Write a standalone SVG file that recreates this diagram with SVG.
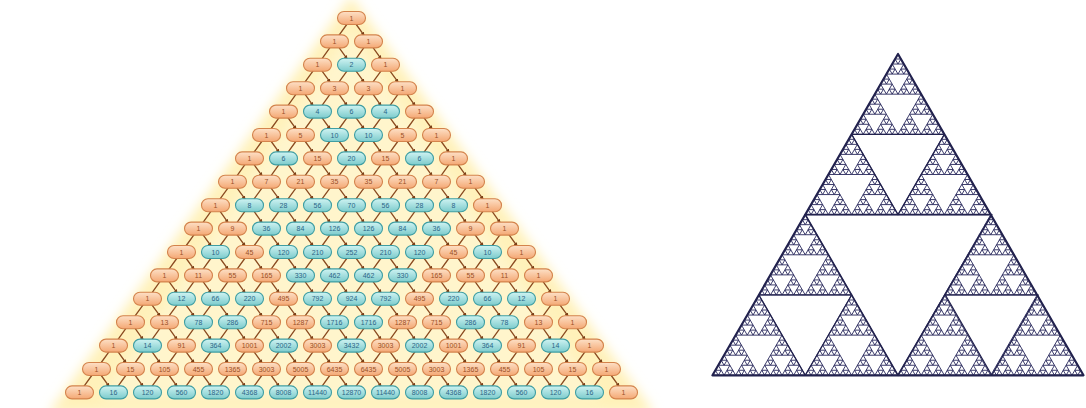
<svg xmlns="http://www.w3.org/2000/svg" xmlns:xlink="http://www.w3.org/1999/xlink" width="1086" height="408" viewBox="0 0 1086 408">
<style>
text{font-family:'Liberation Sans',Arial,sans-serif;font-size:7px;text-anchor:middle}
.o use{fill:url(#go);stroke:#d4834c;stroke-width:1.1}
.o text{fill:#9a4f26}
.t use{fill:url(#gt);stroke:#3f9ea3;stroke-width:1.1}
.t text{fill:#2b6688}
#conn use{stroke:#8a4a20;stroke-width:1.3;fill:none}
.sp{fill:none;stroke:#26265a;stroke-width:0.9;stroke-linejoin:round}
.sl{fill:none;stroke:#22224e;stroke-linejoin:round}
</style>
<defs>
<linearGradient id="go" x1="0" y1="0" x2="0" y2="1"><stop offset="0" stop-color="#fde0c6"/><stop offset="1" stop-color="#f4a874"/></linearGradient>
<linearGradient id="gt" x1="0" y1="0" x2="0" y2="1"><stop offset="0" stop-color="#cff3f2"/><stop offset="1" stop-color="#7ccbcc"/></linearGradient>
<filter id="blur" x="-10%" y="-10%" width="120%" height="120%"><feGaussianBlur stdDeviation="6"/></filter>
<marker id="ah" viewBox="0 0 6 6" refX="5" refY="3" markerWidth="3" markerHeight="3" orient="auto"><path d="M0,0 L6,3 L0,6 Z" fill="#7a3e16"/></marker>
<rect id="p" x="-14" y="-6.5" width="28" height="13" rx="6.5"/>
<path id="cv" d="M-4.4,6 L-12.6,17.4 M4.4,6 L12.6,17.4" marker-end="url(#ah)"/>
<path id="t0" d="M0,0 L-2.8984,5.0202 L2.8984,5.0202 Z"/>
<g id="t1"><use href="#t0"/><use href="#t0" x="-2.8984" y="5.0202"/><use href="#t0" x="2.8984" y="5.0202"/></g>
<g id="t2"><use href="#t1"/><use href="#t1" x="-5.7969" y="10.0404"/><use href="#t1" x="5.7969" y="10.0404"/></g>
<g id="t3"><use href="#t2"/><use href="#t2" x="-11.5938" y="20.0808"/><use href="#t2" x="11.5938" y="20.0808"/></g>
<g id="t4"><use href="#t3"/><use href="#t3" x="-23.1875" y="40.1616"/><use href="#t3" x="23.1875" y="40.1616"/></g>
<g id="t5"><use href="#t4"/><use href="#t4" x="-46.375" y="80.3232"/><use href="#t4" x="46.375" y="80.3232"/></g>
<g id="t6"><use href="#t5"/><use href="#t5" x="-92.75" y="160.6464"/><use href="#t5" x="92.75" y="160.6464"/></g>
</defs>
<rect width="1086" height="408" fill="#ffffff"/>
<g id="glow">
<polygon points="351,-4 48,414 655,414" fill="#fff1ba" filter="url(#blur)"/>
<polygon points="351,30 100,400 602,400" fill="#fff7d4" opacity="0.7" filter="url(#blur)"/>
</g>
<g id="conn">
<use href="#cv" x="351.5" y="18"/>
<use href="#cv" x="334.5" y="41.4"/><use href="#cv" x="368.5" y="41.4"/>
<use href="#cv" x="317.5" y="64.8"/><use href="#cv" x="351.5" y="64.8"/><use href="#cv" x="385.5" y="64.8"/>
<use href="#cv" x="300.5" y="88.2"/><use href="#cv" x="334.5" y="88.2"/><use href="#cv" x="368.5" y="88.2"/><use href="#cv" x="402.5" y="88.2"/>
<use href="#cv" x="283.5" y="111.6"/><use href="#cv" x="317.5" y="111.6"/><use href="#cv" x="351.5" y="111.6"/><use href="#cv" x="385.5" y="111.6"/><use href="#cv" x="419.5" y="111.6"/>
<use href="#cv" x="266.5" y="135"/><use href="#cv" x="300.5" y="135"/><use href="#cv" x="334.5" y="135"/><use href="#cv" x="368.5" y="135"/><use href="#cv" x="402.5" y="135"/><use href="#cv" x="436.5" y="135"/>
<use href="#cv" x="249.5" y="158.4"/><use href="#cv" x="283.5" y="158.4"/><use href="#cv" x="317.5" y="158.4"/><use href="#cv" x="351.5" y="158.4"/><use href="#cv" x="385.5" y="158.4"/><use href="#cv" x="419.5" y="158.4"/><use href="#cv" x="453.5" y="158.4"/>
<use href="#cv" x="232.5" y="181.8"/><use href="#cv" x="266.5" y="181.8"/><use href="#cv" x="300.5" y="181.8"/><use href="#cv" x="334.5" y="181.8"/><use href="#cv" x="368.5" y="181.8"/><use href="#cv" x="402.5" y="181.8"/><use href="#cv" x="436.5" y="181.8"/><use href="#cv" x="470.5" y="181.8"/>
<use href="#cv" x="215.5" y="205.2"/><use href="#cv" x="249.5" y="205.2"/><use href="#cv" x="283.5" y="205.2"/><use href="#cv" x="317.5" y="205.2"/><use href="#cv" x="351.5" y="205.2"/><use href="#cv" x="385.5" y="205.2"/><use href="#cv" x="419.5" y="205.2"/><use href="#cv" x="453.5" y="205.2"/><use href="#cv" x="487.5" y="205.2"/>
<use href="#cv" x="198.5" y="228.6"/><use href="#cv" x="232.5" y="228.6"/><use href="#cv" x="266.5" y="228.6"/><use href="#cv" x="300.5" y="228.6"/><use href="#cv" x="334.5" y="228.6"/><use href="#cv" x="368.5" y="228.6"/><use href="#cv" x="402.5" y="228.6"/><use href="#cv" x="436.5" y="228.6"/><use href="#cv" x="470.5" y="228.6"/><use href="#cv" x="504.5" y="228.6"/>
<use href="#cv" x="181.5" y="252"/><use href="#cv" x="215.5" y="252"/><use href="#cv" x="249.5" y="252"/><use href="#cv" x="283.5" y="252"/><use href="#cv" x="317.5" y="252"/><use href="#cv" x="351.5" y="252"/><use href="#cv" x="385.5" y="252"/><use href="#cv" x="419.5" y="252"/><use href="#cv" x="453.5" y="252"/><use href="#cv" x="487.5" y="252"/><use href="#cv" x="521.5" y="252"/>
<use href="#cv" x="164.5" y="275.4"/><use href="#cv" x="198.5" y="275.4"/><use href="#cv" x="232.5" y="275.4"/><use href="#cv" x="266.5" y="275.4"/><use href="#cv" x="300.5" y="275.4"/><use href="#cv" x="334.5" y="275.4"/><use href="#cv" x="368.5" y="275.4"/><use href="#cv" x="402.5" y="275.4"/><use href="#cv" x="436.5" y="275.4"/><use href="#cv" x="470.5" y="275.4"/><use href="#cv" x="504.5" y="275.4"/><use href="#cv" x="538.5" y="275.4"/>
<use href="#cv" x="147.5" y="298.8"/><use href="#cv" x="181.5" y="298.8"/><use href="#cv" x="215.5" y="298.8"/><use href="#cv" x="249.5" y="298.8"/><use href="#cv" x="283.5" y="298.8"/><use href="#cv" x="317.5" y="298.8"/><use href="#cv" x="351.5" y="298.8"/><use href="#cv" x="385.5" y="298.8"/><use href="#cv" x="419.5" y="298.8"/><use href="#cv" x="453.5" y="298.8"/><use href="#cv" x="487.5" y="298.8"/><use href="#cv" x="521.5" y="298.8"/><use href="#cv" x="555.5" y="298.8"/>
<use href="#cv" x="130.5" y="322.2"/><use href="#cv" x="164.5" y="322.2"/><use href="#cv" x="198.5" y="322.2"/><use href="#cv" x="232.5" y="322.2"/><use href="#cv" x="266.5" y="322.2"/><use href="#cv" x="300.5" y="322.2"/><use href="#cv" x="334.5" y="322.2"/><use href="#cv" x="368.5" y="322.2"/><use href="#cv" x="402.5" y="322.2"/><use href="#cv" x="436.5" y="322.2"/><use href="#cv" x="470.5" y="322.2"/><use href="#cv" x="504.5" y="322.2"/><use href="#cv" x="538.5" y="322.2"/><use href="#cv" x="572.5" y="322.2"/>
<use href="#cv" x="113.5" y="345.6"/><use href="#cv" x="147.5" y="345.6"/><use href="#cv" x="181.5" y="345.6"/><use href="#cv" x="215.5" y="345.6"/><use href="#cv" x="249.5" y="345.6"/><use href="#cv" x="283.5" y="345.6"/><use href="#cv" x="317.5" y="345.6"/><use href="#cv" x="351.5" y="345.6"/><use href="#cv" x="385.5" y="345.6"/><use href="#cv" x="419.5" y="345.6"/><use href="#cv" x="453.5" y="345.6"/><use href="#cv" x="487.5" y="345.6"/><use href="#cv" x="521.5" y="345.6"/><use href="#cv" x="555.5" y="345.6"/><use href="#cv" x="589.5" y="345.6"/>
<use href="#cv" x="96.5" y="369"/><use href="#cv" x="130.5" y="369"/><use href="#cv" x="164.5" y="369"/><use href="#cv" x="198.5" y="369"/><use href="#cv" x="232.5" y="369"/><use href="#cv" x="266.5" y="369"/><use href="#cv" x="300.5" y="369"/><use href="#cv" x="334.5" y="369"/><use href="#cv" x="368.5" y="369"/><use href="#cv" x="402.5" y="369"/><use href="#cv" x="436.5" y="369"/><use href="#cv" x="470.5" y="369"/><use href="#cv" x="504.5" y="369"/><use href="#cv" x="538.5" y="369"/><use href="#cv" x="572.5" y="369"/><use href="#cv" x="606.5" y="369"/>
</g>
<g id="nodes">
<g id="n0_0" class="o" transform="translate(351.5,18)"><use href="#p"/><text y="2.5">1</text></g>
<g id="n1_0" class="o" transform="translate(334.5,41.4)"><use href="#p"/><text y="2.5">1</text></g>
<g id="n1_1" class="o" transform="translate(368.5,41.4)"><use href="#p"/><text y="2.5">1</text></g>
<g id="n2_0" class="o" transform="translate(317.5,64.8)"><use href="#p"/><text y="2.5">1</text></g>
<g id="n2_1" class="t" transform="translate(351.5,64.8)"><use href="#p"/><text y="2.5">2</text></g>
<g id="n2_2" class="o" transform="translate(385.5,64.8)"><use href="#p"/><text y="2.5">1</text></g>
<g id="n3_0" class="o" transform="translate(300.5,88.2)"><use href="#p"/><text y="2.5">1</text></g>
<g id="n3_1" class="o" transform="translate(334.5,88.2)"><use href="#p"/><text y="2.5">3</text></g>
<g id="n3_2" class="o" transform="translate(368.5,88.2)"><use href="#p"/><text y="2.5">3</text></g>
<g id="n3_3" class="o" transform="translate(402.5,88.2)"><use href="#p"/><text y="2.5">1</text></g>
<g id="n4_0" class="o" transform="translate(283.5,111.6)"><use href="#p"/><text y="2.5">1</text></g>
<g id="n4_1" class="t" transform="translate(317.5,111.6)"><use href="#p"/><text y="2.5">4</text></g>
<g id="n4_2" class="t" transform="translate(351.5,111.6)"><use href="#p"/><text y="2.5">6</text></g>
<g id="n4_3" class="t" transform="translate(385.5,111.6)"><use href="#p"/><text y="2.5">4</text></g>
<g id="n4_4" class="o" transform="translate(419.5,111.6)"><use href="#p"/><text y="2.5">1</text></g>
<g id="n5_0" class="o" transform="translate(266.5,135)"><use href="#p"/><text y="2.5">1</text></g>
<g id="n5_1" class="o" transform="translate(300.5,135)"><use href="#p"/><text y="2.5">5</text></g>
<g id="n5_2" class="t" transform="translate(334.5,135)"><use href="#p"/><text y="2.5">10</text></g>
<g id="n5_3" class="t" transform="translate(368.5,135)"><use href="#p"/><text y="2.5">10</text></g>
<g id="n5_4" class="o" transform="translate(402.5,135)"><use href="#p"/><text y="2.5">5</text></g>
<g id="n5_5" class="o" transform="translate(436.5,135)"><use href="#p"/><text y="2.5">1</text></g>
<g id="n6_0" class="o" transform="translate(249.5,158.4)"><use href="#p"/><text y="2.5">1</text></g>
<g id="n6_1" class="t" transform="translate(283.5,158.4)"><use href="#p"/><text y="2.5">6</text></g>
<g id="n6_2" class="o" transform="translate(317.5,158.4)"><use href="#p"/><text y="2.5">15</text></g>
<g id="n6_3" class="t" transform="translate(351.5,158.4)"><use href="#p"/><text y="2.5">20</text></g>
<g id="n6_4" class="o" transform="translate(385.5,158.4)"><use href="#p"/><text y="2.5">15</text></g>
<g id="n6_5" class="t" transform="translate(419.5,158.4)"><use href="#p"/><text y="2.5">6</text></g>
<g id="n6_6" class="o" transform="translate(453.5,158.4)"><use href="#p"/><text y="2.5">1</text></g>
<g id="n7_0" class="o" transform="translate(232.5,181.8)"><use href="#p"/><text y="2.5">1</text></g>
<g id="n7_1" class="o" transform="translate(266.5,181.8)"><use href="#p"/><text y="2.5">7</text></g>
<g id="n7_2" class="o" transform="translate(300.5,181.8)"><use href="#p"/><text y="2.5">21</text></g>
<g id="n7_3" class="o" transform="translate(334.5,181.8)"><use href="#p"/><text y="2.5">35</text></g>
<g id="n7_4" class="o" transform="translate(368.5,181.8)"><use href="#p"/><text y="2.5">35</text></g>
<g id="n7_5" class="o" transform="translate(402.5,181.8)"><use href="#p"/><text y="2.5">21</text></g>
<g id="n7_6" class="o" transform="translate(436.5,181.8)"><use href="#p"/><text y="2.5">7</text></g>
<g id="n7_7" class="o" transform="translate(470.5,181.8)"><use href="#p"/><text y="2.5">1</text></g>
<g id="n8_0" class="o" transform="translate(215.5,205.2)"><use href="#p"/><text y="2.5">1</text></g>
<g id="n8_1" class="t" transform="translate(249.5,205.2)"><use href="#p"/><text y="2.5">8</text></g>
<g id="n8_2" class="t" transform="translate(283.5,205.2)"><use href="#p"/><text y="2.5">28</text></g>
<g id="n8_3" class="t" transform="translate(317.5,205.2)"><use href="#p"/><text y="2.5">56</text></g>
<g id="n8_4" class="t" transform="translate(351.5,205.2)"><use href="#p"/><text y="2.5">70</text></g>
<g id="n8_5" class="t" transform="translate(385.5,205.2)"><use href="#p"/><text y="2.5">56</text></g>
<g id="n8_6" class="t" transform="translate(419.5,205.2)"><use href="#p"/><text y="2.5">28</text></g>
<g id="n8_7" class="t" transform="translate(453.5,205.2)"><use href="#p"/><text y="2.5">8</text></g>
<g id="n8_8" class="o" transform="translate(487.5,205.2)"><use href="#p"/><text y="2.5">1</text></g>
<g id="n9_0" class="o" transform="translate(198.5,228.6)"><use href="#p"/><text y="2.5">1</text></g>
<g id="n9_1" class="o" transform="translate(232.5,228.6)"><use href="#p"/><text y="2.5">9</text></g>
<g id="n9_2" class="t" transform="translate(266.5,228.6)"><use href="#p"/><text y="2.5">36</text></g>
<g id="n9_3" class="t" transform="translate(300.5,228.6)"><use href="#p"/><text y="2.5">84</text></g>
<g id="n9_4" class="t" transform="translate(334.5,228.6)"><use href="#p"/><text y="2.5">126</text></g>
<g id="n9_5" class="t" transform="translate(368.5,228.6)"><use href="#p"/><text y="2.5">126</text></g>
<g id="n9_6" class="t" transform="translate(402.5,228.6)"><use href="#p"/><text y="2.5">84</text></g>
<g id="n9_7" class="t" transform="translate(436.5,228.6)"><use href="#p"/><text y="2.5">36</text></g>
<g id="n9_8" class="o" transform="translate(470.5,228.6)"><use href="#p"/><text y="2.5">9</text></g>
<g id="n9_9" class="o" transform="translate(504.5,228.6)"><use href="#p"/><text y="2.5">1</text></g>
<g id="n10_0" class="o" transform="translate(181.5,252)"><use href="#p"/><text y="2.5">1</text></g>
<g id="n10_1" class="t" transform="translate(215.5,252)"><use href="#p"/><text y="2.5">10</text></g>
<g id="n10_2" class="o" transform="translate(249.5,252)"><use href="#p"/><text y="2.5">45</text></g>
<g id="n10_3" class="t" transform="translate(283.5,252)"><use href="#p"/><text y="2.5">120</text></g>
<g id="n10_4" class="t" transform="translate(317.5,252)"><use href="#p"/><text y="2.5">210</text></g>
<g id="n10_5" class="t" transform="translate(351.5,252)"><use href="#p"/><text y="2.5">252</text></g>
<g id="n10_6" class="t" transform="translate(385.5,252)"><use href="#p"/><text y="2.5">210</text></g>
<g id="n10_7" class="t" transform="translate(419.5,252)"><use href="#p"/><text y="2.5">120</text></g>
<g id="n10_8" class="o" transform="translate(453.5,252)"><use href="#p"/><text y="2.5">45</text></g>
<g id="n10_9" class="t" transform="translate(487.5,252)"><use href="#p"/><text y="2.5">10</text></g>
<g id="n10_10" class="o" transform="translate(521.5,252)"><use href="#p"/><text y="2.5">1</text></g>
<g id="n11_0" class="o" transform="translate(164.5,275.4)"><use href="#p"/><text y="2.5">1</text></g>
<g id="n11_1" class="o" transform="translate(198.5,275.4)"><use href="#p"/><text y="2.5">11</text></g>
<g id="n11_2" class="o" transform="translate(232.5,275.4)"><use href="#p"/><text y="2.5">55</text></g>
<g id="n11_3" class="o" transform="translate(266.5,275.4)"><use href="#p"/><text y="2.5">165</text></g>
<g id="n11_4" class="t" transform="translate(300.5,275.4)"><use href="#p"/><text y="2.5">330</text></g>
<g id="n11_5" class="t" transform="translate(334.5,275.4)"><use href="#p"/><text y="2.5">462</text></g>
<g id="n11_6" class="t" transform="translate(368.5,275.4)"><use href="#p"/><text y="2.5">462</text></g>
<g id="n11_7" class="t" transform="translate(402.5,275.4)"><use href="#p"/><text y="2.5">330</text></g>
<g id="n11_8" class="o" transform="translate(436.5,275.4)"><use href="#p"/><text y="2.5">165</text></g>
<g id="n11_9" class="o" transform="translate(470.5,275.4)"><use href="#p"/><text y="2.5">55</text></g>
<g id="n11_10" class="o" transform="translate(504.5,275.4)"><use href="#p"/><text y="2.5">11</text></g>
<g id="n11_11" class="o" transform="translate(538.5,275.4)"><use href="#p"/><text y="2.5">1</text></g>
<g id="n12_0" class="o" transform="translate(147.5,298.8)"><use href="#p"/><text y="2.5">1</text></g>
<g id="n12_1" class="t" transform="translate(181.5,298.8)"><use href="#p"/><text y="2.5">12</text></g>
<g id="n12_2" class="t" transform="translate(215.5,298.8)"><use href="#p"/><text y="2.5">66</text></g>
<g id="n12_3" class="t" transform="translate(249.5,298.8)"><use href="#p"/><text y="2.5">220</text></g>
<g id="n12_4" class="o" transform="translate(283.5,298.8)"><use href="#p"/><text y="2.5">495</text></g>
<g id="n12_5" class="t" transform="translate(317.5,298.8)"><use href="#p"/><text y="2.5">792</text></g>
<g id="n12_6" class="t" transform="translate(351.5,298.8)"><use href="#p"/><text y="2.5">924</text></g>
<g id="n12_7" class="t" transform="translate(385.5,298.8)"><use href="#p"/><text y="2.5">792</text></g>
<g id="n12_8" class="o" transform="translate(419.5,298.8)"><use href="#p"/><text y="2.5">495</text></g>
<g id="n12_9" class="t" transform="translate(453.5,298.8)"><use href="#p"/><text y="2.5">220</text></g>
<g id="n12_10" class="t" transform="translate(487.5,298.8)"><use href="#p"/><text y="2.5">66</text></g>
<g id="n12_11" class="t" transform="translate(521.5,298.8)"><use href="#p"/><text y="2.5">12</text></g>
<g id="n12_12" class="o" transform="translate(555.5,298.8)"><use href="#p"/><text y="2.5">1</text></g>
<g id="n13_0" class="o" transform="translate(130.5,322.2)"><use href="#p"/><text y="2.5">1</text></g>
<g id="n13_1" class="o" transform="translate(164.5,322.2)"><use href="#p"/><text y="2.5">13</text></g>
<g id="n13_2" class="t" transform="translate(198.5,322.2)"><use href="#p"/><text y="2.5">78</text></g>
<g id="n13_3" class="t" transform="translate(232.5,322.2)"><use href="#p"/><text y="2.5">286</text></g>
<g id="n13_4" class="o" transform="translate(266.5,322.2)"><use href="#p"/><text y="2.5">715</text></g>
<g id="n13_5" class="o" transform="translate(300.5,322.2)"><use href="#p"/><text y="2.5">1287</text></g>
<g id="n13_6" class="t" transform="translate(334.5,322.2)"><use href="#p"/><text y="2.5">1716</text></g>
<g id="n13_7" class="t" transform="translate(368.5,322.2)"><use href="#p"/><text y="2.5">1716</text></g>
<g id="n13_8" class="o" transform="translate(402.5,322.2)"><use href="#p"/><text y="2.5">1287</text></g>
<g id="n13_9" class="o" transform="translate(436.5,322.2)"><use href="#p"/><text y="2.5">715</text></g>
<g id="n13_10" class="t" transform="translate(470.5,322.2)"><use href="#p"/><text y="2.5">286</text></g>
<g id="n13_11" class="t" transform="translate(504.5,322.2)"><use href="#p"/><text y="2.5">78</text></g>
<g id="n13_12" class="o" transform="translate(538.5,322.2)"><use href="#p"/><text y="2.5">13</text></g>
<g id="n13_13" class="o" transform="translate(572.5,322.2)"><use href="#p"/><text y="2.5">1</text></g>
<g id="n14_0" class="o" transform="translate(113.5,345.6)"><use href="#p"/><text y="2.5">1</text></g>
<g id="n14_1" class="t" transform="translate(147.5,345.6)"><use href="#p"/><text y="2.5">14</text></g>
<g id="n14_2" class="o" transform="translate(181.5,345.6)"><use href="#p"/><text y="2.5">91</text></g>
<g id="n14_3" class="t" transform="translate(215.5,345.6)"><use href="#p"/><text y="2.5">364</text></g>
<g id="n14_4" class="o" transform="translate(249.5,345.6)"><use href="#p"/><text y="2.5">1001</text></g>
<g id="n14_5" class="t" transform="translate(283.5,345.6)"><use href="#p"/><text y="2.5">2002</text></g>
<g id="n14_6" class="o" transform="translate(317.5,345.6)"><use href="#p"/><text y="2.5">3003</text></g>
<g id="n14_7" class="t" transform="translate(351.5,345.6)"><use href="#p"/><text y="2.5">3432</text></g>
<g id="n14_8" class="o" transform="translate(385.5,345.6)"><use href="#p"/><text y="2.5">3003</text></g>
<g id="n14_9" class="t" transform="translate(419.5,345.6)"><use href="#p"/><text y="2.5">2002</text></g>
<g id="n14_10" class="o" transform="translate(453.5,345.6)"><use href="#p"/><text y="2.5">1001</text></g>
<g id="n14_11" class="t" transform="translate(487.5,345.6)"><use href="#p"/><text y="2.5">364</text></g>
<g id="n14_12" class="o" transform="translate(521.5,345.6)"><use href="#p"/><text y="2.5">91</text></g>
<g id="n14_13" class="t" transform="translate(555.5,345.6)"><use href="#p"/><text y="2.5">14</text></g>
<g id="n14_14" class="o" transform="translate(589.5,345.6)"><use href="#p"/><text y="2.5">1</text></g>
<g id="n15_0" class="o" transform="translate(96.5,369)"><use href="#p"/><text y="2.5">1</text></g>
<g id="n15_1" class="o" transform="translate(130.5,369)"><use href="#p"/><text y="2.5">15</text></g>
<g id="n15_2" class="o" transform="translate(164.5,369)"><use href="#p"/><text y="2.5">105</text></g>
<g id="n15_3" class="o" transform="translate(198.5,369)"><use href="#p"/><text y="2.5">455</text></g>
<g id="n15_4" class="o" transform="translate(232.5,369)"><use href="#p"/><text y="2.5">1365</text></g>
<g id="n15_5" class="o" transform="translate(266.5,369)"><use href="#p"/><text y="2.5">3003</text></g>
<g id="n15_6" class="o" transform="translate(300.5,369)"><use href="#p"/><text y="2.5">5005</text></g>
<g id="n15_7" class="o" transform="translate(334.5,369)"><use href="#p"/><text y="2.5">6435</text></g>
<g id="n15_8" class="o" transform="translate(368.5,369)"><use href="#p"/><text y="2.5">6435</text></g>
<g id="n15_9" class="o" transform="translate(402.5,369)"><use href="#p"/><text y="2.5">5005</text></g>
<g id="n15_10" class="o" transform="translate(436.5,369)"><use href="#p"/><text y="2.5">3003</text></g>
<g id="n15_11" class="o" transform="translate(470.5,369)"><use href="#p"/><text y="2.5">1365</text></g>
<g id="n15_12" class="o" transform="translate(504.5,369)"><use href="#p"/><text y="2.5">455</text></g>
<g id="n15_13" class="o" transform="translate(538.5,369)"><use href="#p"/><text y="2.5">105</text></g>
<g id="n15_14" class="o" transform="translate(572.5,369)"><use href="#p"/><text y="2.5">15</text></g>
<g id="n15_15" class="o" transform="translate(606.5,369)"><use href="#p"/><text y="2.5">1</text></g>
<g id="n16_0" class="o" transform="translate(79.5,392.4)"><use href="#p"/><text y="2.5">1</text></g>
<g id="n16_1" class="t" transform="translate(113.5,392.4)"><use href="#p"/><text y="2.5">16</text></g>
<g id="n16_2" class="t" transform="translate(147.5,392.4)"><use href="#p"/><text y="2.5">120</text></g>
<g id="n16_3" class="t" transform="translate(181.5,392.4)"><use href="#p"/><text y="2.5">560</text></g>
<g id="n16_4" class="t" transform="translate(215.5,392.4)"><use href="#p"/><text y="2.5">1820</text></g>
<g id="n16_5" class="t" transform="translate(249.5,392.4)"><use href="#p"/><text y="2.5">4368</text></g>
<g id="n16_6" class="t" transform="translate(283.5,392.4)"><use href="#p"/><text y="2.5">8008</text></g>
<g id="n16_7" class="t" transform="translate(317.5,392.4)"><use href="#p"/><text y="2.5">11440</text></g>
<g id="n16_8" class="t" transform="translate(351.5,392.4)"><use href="#p"/><text y="2.5">12870</text></g>
<g id="n16_9" class="t" transform="translate(385.5,392.4)"><use href="#p"/><text y="2.5">11440</text></g>
<g id="n16_10" class="t" transform="translate(419.5,392.4)"><use href="#p"/><text y="2.5">8008</text></g>
<g id="n16_11" class="t" transform="translate(453.5,392.4)"><use href="#p"/><text y="2.5">4368</text></g>
<g id="n16_12" class="t" transform="translate(487.5,392.4)"><use href="#p"/><text y="2.5">1820</text></g>
<g id="n16_13" class="t" transform="translate(521.5,392.4)"><use href="#p"/><text y="2.5">560</text></g>
<g id="n16_14" class="t" transform="translate(555.5,392.4)"><use href="#p"/><text y="2.5">120</text></g>
<g id="n16_15" class="t" transform="translate(589.5,392.4)"><use href="#p"/><text y="2.5">16</text></g>
<g id="n16_16" class="o" transform="translate(623.5,392.4)"><use href="#p"/><text y="2.5">1</text></g>
</g>
<g id="sierpinski">
<use href="#t6" x="898" y="54" class="sp"/>
<path class="sl" stroke-width="1.3" d="M851.625,134.32 L944.375,134.32 L898,214.65 Z M758.875,294.97 L851.625,294.97 L805.25,375.3 Z M945.375,294.97 L1038.125,294.97 L991.75,375.3 Z"/>
<path class="sl" stroke-width="1.7" d="M805.25,214.65 L991.75,214.65 L898,375.3 Z"/>
<path class="sl" stroke-width="2.2" d="M898,54 L712.5,375.3 L1083.5,375.3 Z"/>
</g>
</svg>
